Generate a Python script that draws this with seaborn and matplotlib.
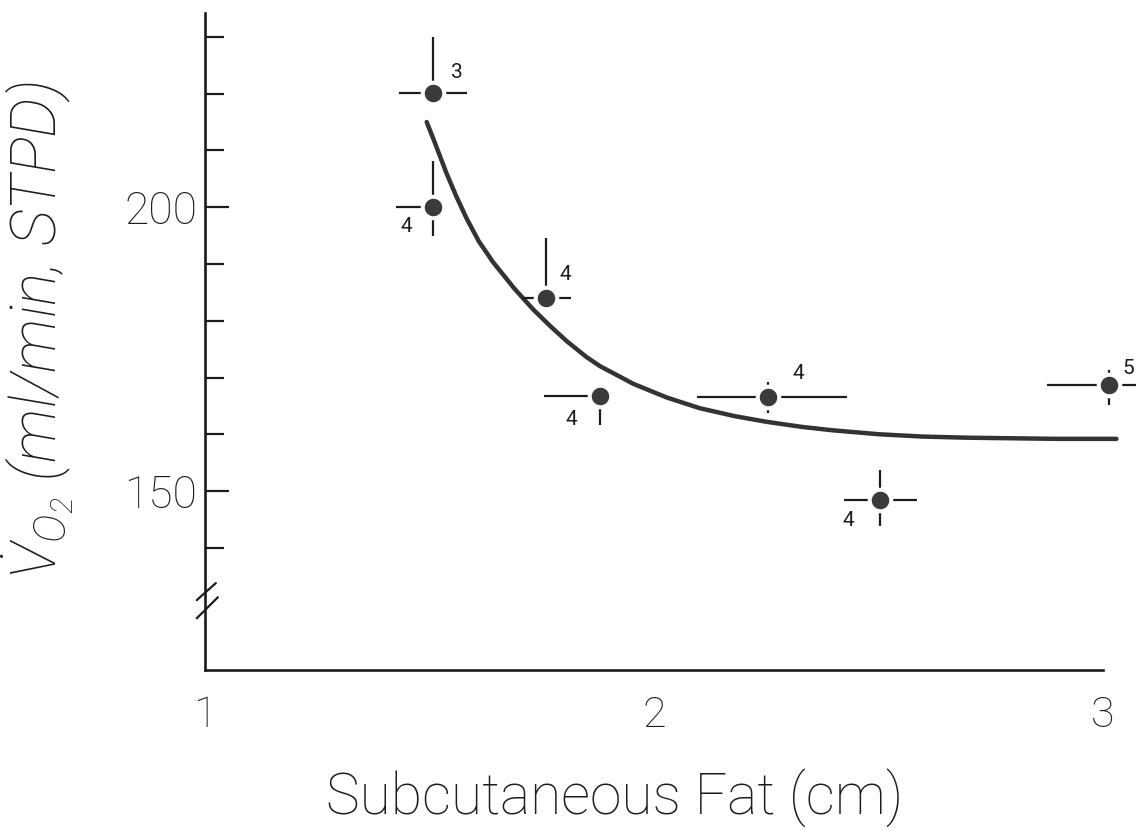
import matplotlib
matplotlib.use("Agg")
import matplotlib.pyplot as plt
import matplotlib.font_manager as fm
import seaborn as sns
import pandas as pd

fat = [1.508, 1.508, 1.759, 1.880, 2.253, 2.503, 3.013]
vo2 = [220.1, 200.0, 184.0, 166.8, 166.6, 148.5, 168.7]
fat_err_lo = [0.075, 0.082, 0.053, 0.125, 0.158, 0.080, 0.138]
fat_err_hi = [0.075, 0.0, 0.056, 0.0, 0.176, 0.082, 0.06]
vo2_err_lo = [0.0, 5.1, 0.0, 5.2, 2.8, 4.6, 3.5]
vo2_err_hi = [9.9, 8.1, 10.5, 0.0, 2.7, 5.3, 2.6]
n_subjects = [3, 4, 4, 4, 4, 4, 5]

# hand drawn fitted curve
curve_fat = [1.494, 1.51, 1.538, 1.56, 1.583, 1.61, 1.642, 1.69, 1.731, 1.77, 1.806,
             1.85, 1.880, 1.954, 2.028, 2.102, 2.18, 2.251, 2.33, 2.399, 2.503,
             2.60, 2.70, 2.90, 3.03]
curve_vo2 = [215.0, 211.8, 206.0, 201.9, 198.0, 194.0, 190.3, 185.6, 182.0, 179.0, 176.4,
             173.6, 172.0, 168.9, 166.5, 164.6, 163.2, 162.2, 161.3, 160.7, 160.0,
             159.6, 159.4, 159.2, 159.2]

# label offsets (points) for the n next to each point
lab_dx = [17, -19, 14, -21, 22, -23, 14]
lab_dy = [15, -14, 17, -17, 17, -15, 12]

df = pd.DataFrame({"fat": fat, "vo2": vo2})
curve = pd.DataFrame({"fat": curve_fat, "vo2": curve_vo2})

sns.set_theme(style="white")
fonts = fm.fontManager.ttflist
names = {f.name for f in fonts}
fam = "Roboto" if "Roboto" in names else "DejaVu Sans"
light = any(f.name == fam and f.weight in (300, "light") for f in fonts)
wt = "light" if light else "normal"
plt.rcParams["font.family"] = [fam, "DejaVu Sans"]
plt.rcParams["font.weight"] = wt
plt.rcParams["axes.labelweight"] = wt
plt.rcParams["mathtext.fontset"] = "custom"
plt.rcParams["mathtext.rm"] = fam + ":italic"
plt.rcParams["mathtext.it"] = fam + ":italic"

ink = "#1c1c1c"
fig = plt.figure(figsize=(11.38, 8.30), dpi=100)
ax = fig.add_axes([0.180, 0.1928, 0.820, 0.795])

sns.lineplot(data=curve, x="fat", y="vo2", ax=ax, color="#333333", lw=3.2, sort=False,
             solid_joinstyle="round", solid_capstyle="round")

ax.errorbar(df["fat"], df["vo2"],
            xerr=[fat_err_lo, fat_err_hi], yerr=[vo2_err_lo, vo2_err_hi],
            fmt="o", ms=15.5, mfc="#3a3a3a", mec="white", mew=2.9,
            ecolor=ink, elinewidth=1.6, capsize=0, clip_on=False, zorder=3)

for x, y, n, dx, dy in zip(fat, vo2, n_subjects, lab_dx, lab_dy):
    ax.annotate(str(n), (x, y), xytext=(dx, dy), textcoords="offset points",
                ha="center", va="center", fontsize=15, color=ink,
                fontweight="normal", annotation_clip=False)

ax.set_xlim(1, 3.078)
ax.set_ylim(118.5, 234.7)
for s in ["top", "right"]:
    ax.spines[s].set_visible(False)
for s in ["left", "bottom"]:
    ax.spines[s].set_color(ink)
    ax.spines[s].set_linewidth(1.9)
ax.spines["bottom"].set_bounds(1, 3)
ax.spines["left"].set_bounds(118.5, 234.2)

ax.set_xticks([1, 2, 3])
ax.set_xticklabels(["1", "2", "3"])
ax.tick_params(axis="x", direction="inout", length=16, width=1.6, color=ink,
               labelsize=31, labelcolor=ink, pad=10)
ax.xaxis.get_major_ticks()[0].tick1line.set_visible(False)

ax.set_yticks([150, 200])
ax.set_yticks([140, 160, 170, 180, 190, 210, 220, 230], minor=True)
ax.tick_params(axis="y", which="major", direction="in", length=17, width=1.6,
               color=ink, labelsize=32, labelcolor=ink, pad=5, left=True)
ax.tick_params(axis="y", which="minor", direction="in", length=14, width=1.6,
               color=ink, left=True)

# axis break marks on the y axis
ax.plot([0.982, 1.0245], [130.8, 133.8], color=ink, lw=1.6, clip_on=False)
ax.plot([0.982, 1.029], [127.6, 131.3], color=ink, lw=1.6, clip_on=False)

ax.set_xlabel("Subcutaneous Fat (cm)", fontsize=41, color=ink)
ax.xaxis.set_label_coords(0.439, -0.148)
ax.set_ylabel(r"$\dot{V}_{O_2}$ (ml/min, STPD)", fontsize=45, color=ink,
              fontstyle="italic")
ax.yaxis.set_label_coords(-0.138, 0.515)

fig.savefig("out.png", dpi=100, facecolor="white")
